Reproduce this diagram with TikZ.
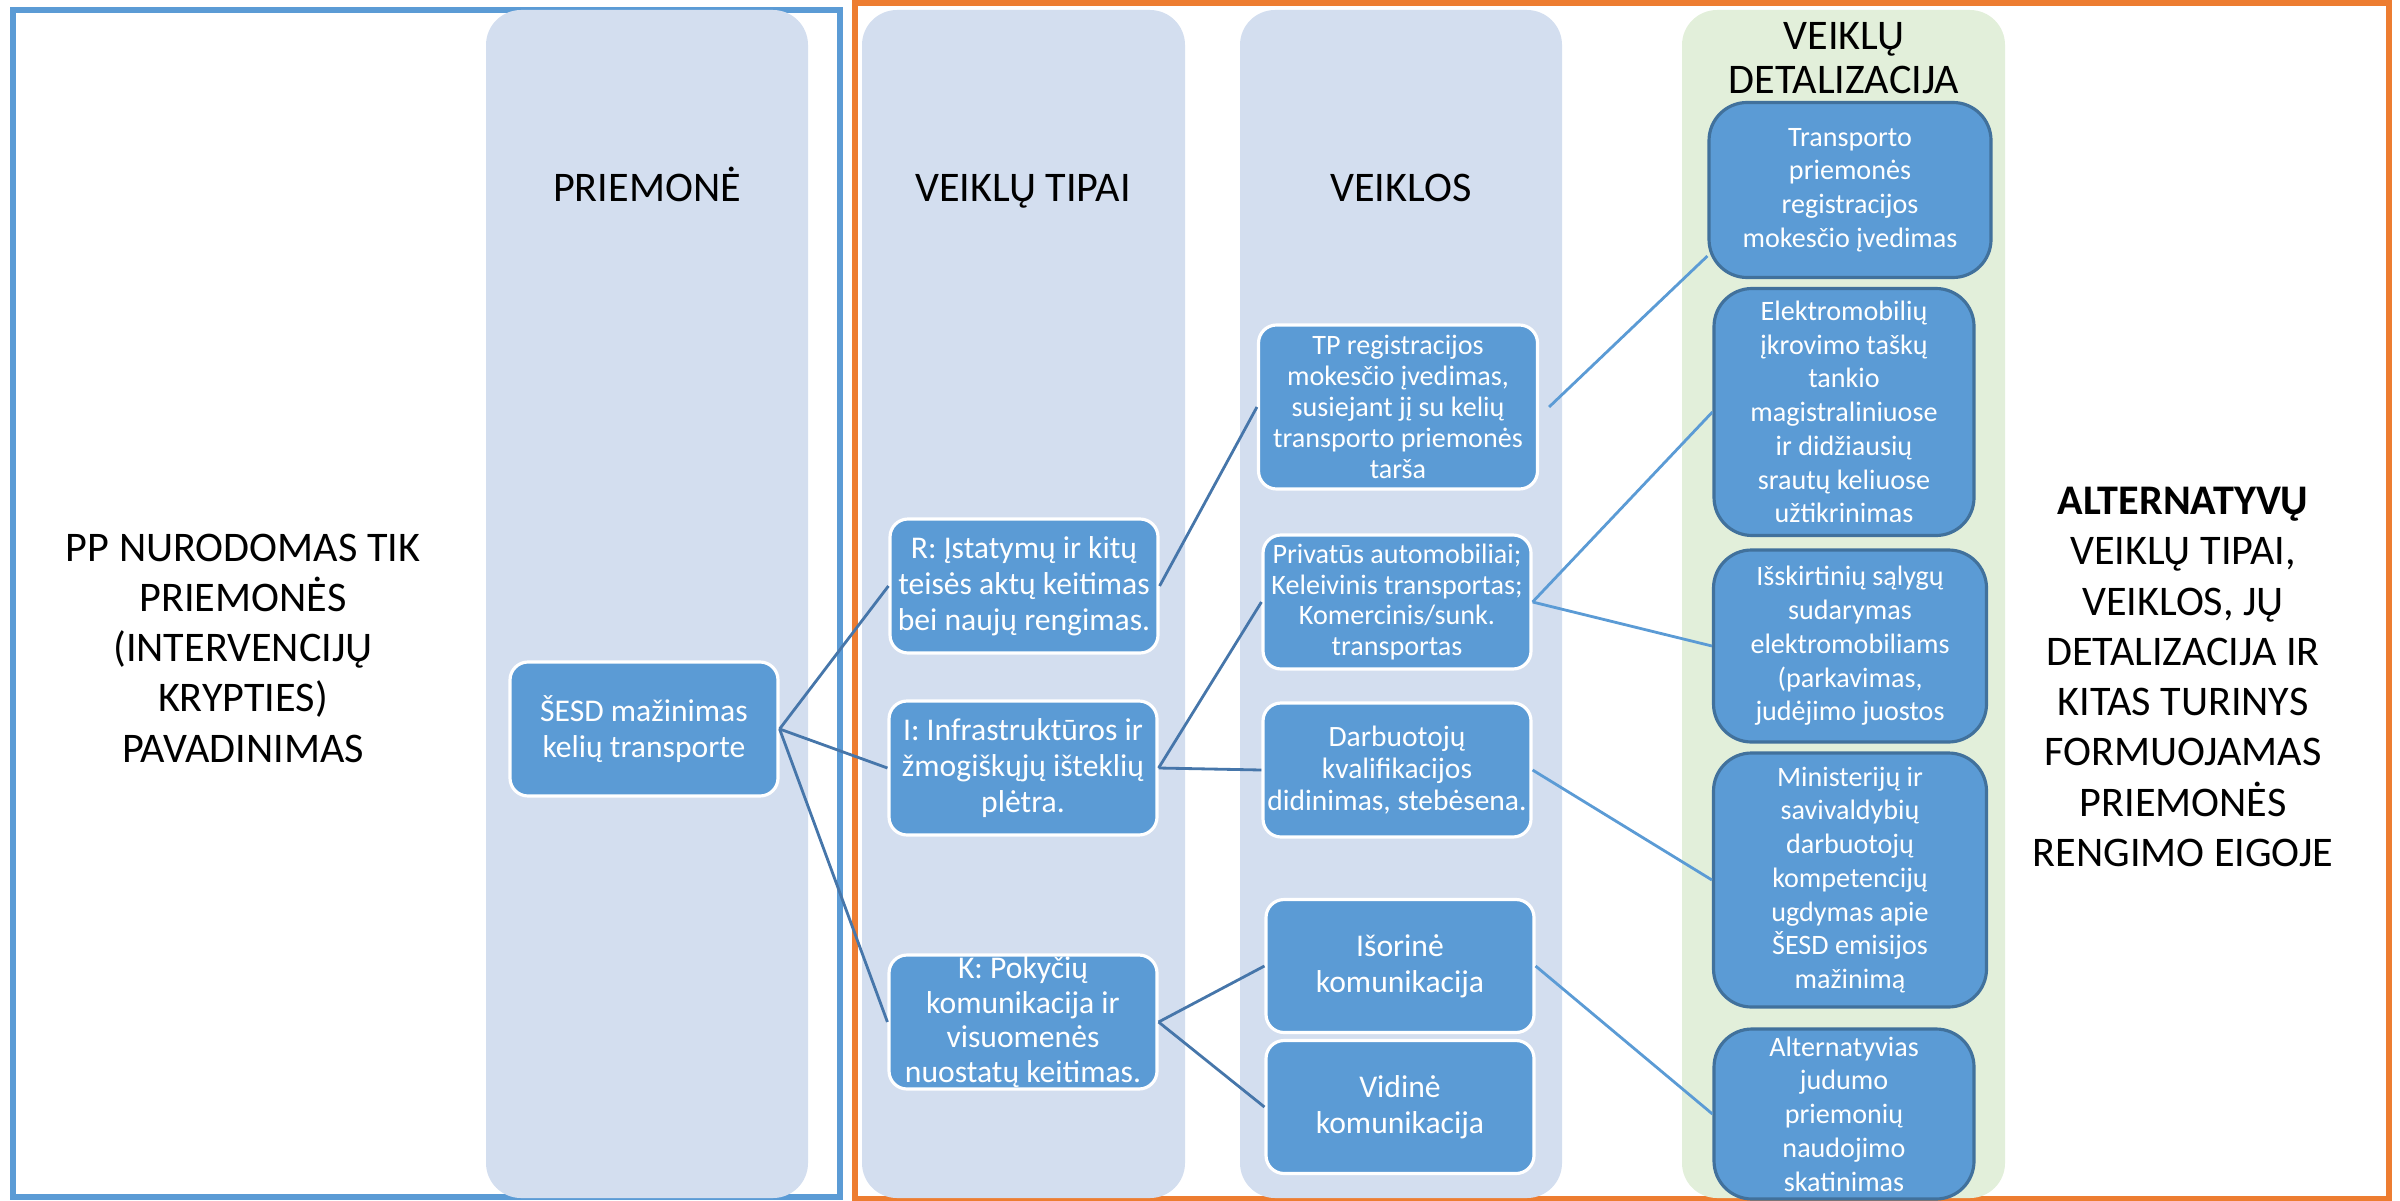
\documentclass[tikz,border=0pt]{standalone}
\usepackage{fontspec}
\setmainfont{Carlito}
\usepackage{tikz}
\definecolor{pillarblue}{RGB}{211,222,239}
\definecolor{pillargreen}{RGB}{226,239,218}
\definecolor{boxblue}{RGB}{91,155,213}
\definecolor{boxedge}{RGB}{65,113,156}
\definecolor{frameorange}{RGB}{237,125,49}
\definecolor{linkdark}{RGB}{70,118,170}

\begin{document}
\begin{tikzpicture}[x=0.1mm, y=-0.1mm,
  pillar/.style={rounded corners=3.5mm},
  head/.style={font=\fontsize{12}{14.3}\selectfont, align=center, inner sep=0pt},
  box/.style={rectangle, rounded corners=1.8mm, fill=boxblue, draw=white, line width=0.9pt, text=white, align=center, inner sep=0pt},
  tipbox/.style={box, minimum width=26.8mm, minimum height=13.4mm, font=\fontsize{9}{10.2}\selectfont},
  actbox/.style={box, minimum width=26.8mm, minimum height=13.4mm, font=\fontsize{8}{8.8}\selectfont},
  detbox/.style={box, draw=boxedge, rounded corners=3.8mm, font=\fontsize{8}{9.6}\selectfont},
  link/.style={linkdark, line width=0.8pt},
  link2/.style={boxblue, line width=0.8pt}
]
\useasboundingbox (0,0) rectangle (2400,1200);
% Frames
\draw[boxblue, line width=1.7pt] (13,10) rectangle (840,1197);
\draw[frameorange, line width=1.7pt] (855,3) rectangle (2389,1199);
% Columns
\fill[pillarblue, pillar] (486,10) rectangle (808,1198);
\fill[pillarblue, pillar] (862,10) rectangle (1185,1198);
\fill[pillarblue, pillar] (1240,10) rectangle (1562,1198);
\fill[pillargreen, pillar] (1682,10) rectangle (2005,1198);
% Column titles
\node[head, anchor=base] (hprie) at (647,201) {PRIEMONĖ};
\node[head, anchor=base] (htip) at (1023,201) {VEIKLŲ TIPAI};
\node[head, anchor=base] (hveik) at (1401,201) {VEIKLOS};
\node[head, font=\fontsize{12}{12.5}\selectfont] (hdet) at (1844,58) {VEIKLŲ\\DETALIZACIJA};
% Side texts
\node[head] (ppname) at (243,648) {PP NURODOMAS TIK\\PRIEMONĖS\\(INTERVENCIJŲ\\KRYPTIES)\\PAVADINIMAS};
\node[head] (altern) at (2183,677) {\textbf{ALTERNATYVŲ}\\VEIKLŲ TIPAI,\\VEIKLOS, JŲ\\DETALIZACIJA IR\\KITAS TURINYS\\FORMUOJAMAS\\PRIEMONĖS\\RENGIMO EIGOJE};
% Measure
\node[tipbox] (sesd) at (644,729) {ŠESD mažinimas\\kelių transporte};
% Activity types
\node[tipbox] (tipr) at (1024,586) {R: Įstatymų ir kitų\\teisės aktų keitimas\\bei naujų rengimas.};
\node[tipbox] (tipi) at (1023,768) {I: Infrastruktūros ir\\žmogiškųjų išteklių\\plėtra.};
\node[tipbox, font=\fontsize{9}{9.8}\selectfont] (tipk) at (1023,1022) {K: Pokyčių\\komunikacija ir\\visuomenės\\nuostatų keitimas.};
% Activities
\node[actbox, minimum width=27.9mm, minimum height=16.4mm] (acttp) at (1398,407) {TP registracijos\\mokesčio įvedimas,\\susiejant jį su kelių\\transporto priemonės\\tarša};
\node[actbox] (actpriv) at (1397,602) {Privatūs automobiliai;\\Keleivinis transportas;\\Komercinis/sunk.\\transportas};
\node[actbox, font=\fontsize{8.4}{9.2}\selectfont] (actdarb) at (1397,770) {Darbuotojų\\kvalifikacijos\\didinimas, stebėsena.};
\node[actbox, minimum height=13.3mm, font=\fontsize{9}{10.2}\selectfont] (actisor) at (1400,966) {Išorinė\\komunikacija};
\node[actbox, minimum height=13.3mm, font=\fontsize{9}{10.2}\selectfont] (actvid) at (1400,1107) {Vidinė\\komunikacija};
% Activity details
\node[detbox, minimum width=28.2mm, minimum height=17.5mm] (det1) at (1850,190) {Transporto\\priemonės\\registracijos\\mokesčio įvedimas};
\node[detbox, minimum width=26mm, minimum height=24.7mm] (det2) at (1844,412) {Elektromobilių\\įkrovimo taškų\\tankio\\magistraliniuose\\ir didžiausių\\srautų keliuose\\užtikrinimas};
\node[detbox, minimum width=27.3mm, minimum height=19.2mm] (det3) at (1850,646) {Išskirtinių sąlygų\\sudarymas\\elektromobiliams\\(parkavimas,\\judėjimo juostos};
\node[detbox, minimum width=27.3mm, minimum height=25.4mm] (det4) at (1850,880) {Ministerijų ir\\savivaldybių\\darbuotojų\\kompetencijų\\ugdymas apie\\ŠESD emisijos\\mažinimą};
\node[detbox, minimum width=26mm, minimum height=17mm] (det5) at (1844,1114) {Alternatyvias\\judumo\\priemonių\\naudojimo\\skatinimas};
% Connectors
\draw[link] (sesd.east) -- (tipr.west);
\draw[link] (sesd.east) -- (tipi.west);
\draw[link] (sesd.east) -- (tipk.west);
\draw[link] (tipr.east) -- (acttp.west);
\draw[link] (tipi.east) -- (actpriv.west);
\draw[link] (tipi.east) -- (actdarb.west);
\draw[link] (tipk.east) -- (actisor.west);
\draw[link] (tipk.east) -- (actvid.west);
\draw[link2] ([xshift=1mm]acttp.east) -- ([yshift=-6.6mm]det1.west);
\draw[link2] (actpriv.east) -- (det2.west);
\draw[link2] (actpriv.east) -- (det3.west);
\draw[link2] (actdarb.east) -- (det4.west);
\draw[link2] (actisor.east) -- (det5.west);
\end{tikzpicture}
\end{document}
